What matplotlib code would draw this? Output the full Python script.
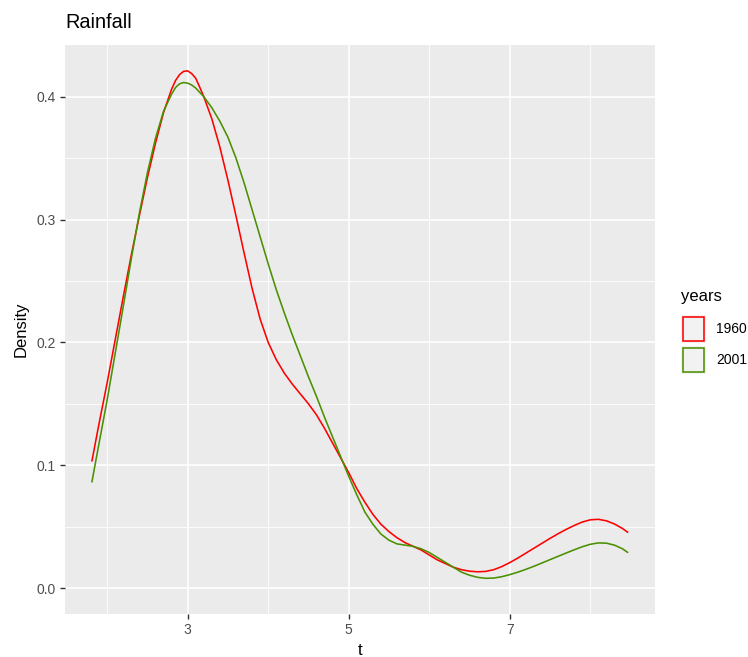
import matplotlib
matplotlib.use("Agg")
import matplotlib.pyplot as plt
from matplotlib.patches import Rectangle

# ---- data ----
t_1960 = [1.81, 1.9, 2.0, 2.1, 2.2, 2.3, 2.4, 2.5, 2.6, 2.7, 2.8, 2.85, 2.9, 2.95, 3.0,
          3.05, 3.1, 3.15, 3.2, 3.3, 3.4, 3.5, 3.6, 3.7, 3.8, 3.9, 4.0, 4.1, 4.2, 4.3,
          4.4, 4.5, 4.6, 4.7, 4.8, 4.9, 5.0, 5.1, 5.2, 5.3, 5.4, 5.5, 5.6, 5.7, 5.8,
          5.9, 6.0, 6.1, 6.2, 6.3, 6.4, 6.5, 6.6, 6.7, 6.8, 6.9, 7.0, 7.1, 7.2, 7.3,
          7.4, 7.5, 7.6, 7.7, 7.8, 7.9, 8.0, 8.1, 8.2, 8.3, 8.4, 8.47]
d_1960 = [0.103, 0.134, 0.167, 0.202, 0.237, 0.271, 0.303, 0.334, 0.362, 0.387, 0.406,
          0.4132, 0.418, 0.4206, 0.421, 0.4188, 0.415, 0.4077, 0.400, 0.382, 0.359,
          0.332, 0.303, 0.273, 0.244, 0.219, 0.200, 0.186, 0.175, 0.166, 0.158, 0.150,
          0.141, 0.130, 0.118, 0.106, 0.094, 0.081, 0.070, 0.060, 0.052, 0.046, 0.041,
          0.037, 0.034, 0.031, 0.027, 0.023, 0.020, 0.017, 0.0150, 0.0138, 0.0133,
          0.0136, 0.0150, 0.0175, 0.0208, 0.0245, 0.0285, 0.0325, 0.0365, 0.0405,
          0.0443, 0.0478, 0.0510, 0.0538, 0.0556, 0.0560, 0.0548, 0.0522, 0.0485, 0.0452]

t_2001 = [1.81, 1.9, 2.0, 2.1, 2.2, 2.3, 2.4, 2.5, 2.6, 2.7, 2.8, 2.85, 2.9, 2.95, 3.0,
          3.05, 3.1, 3.2, 3.3, 3.4, 3.5, 3.6, 3.7, 3.8, 3.9, 4.0, 4.1, 4.2, 4.3, 4.4,
          4.5, 4.6, 4.7, 4.8, 4.9, 5.0, 5.1, 5.2, 5.3, 5.4, 5.5, 5.6, 5.7, 5.8, 5.9,
          6.0, 6.1, 6.2, 6.3, 6.4, 6.5, 6.6, 6.7, 6.8, 6.9, 7.0, 7.1, 7.2, 7.3, 7.4,
          7.5, 7.6, 7.7, 7.8, 7.9, 8.0, 8.1, 8.2, 8.3, 8.4, 8.47]
d_2001 = [0.086, 0.118, 0.153, 0.191, 0.229, 0.268, 0.305, 0.338, 0.366, 0.388, 0.402,
          0.4075, 0.4105, 0.4115, 0.411, 0.4095, 0.407, 0.400, 0.391, 0.380, 0.367,
          0.350, 0.330, 0.308, 0.286, 0.264, 0.243, 0.224, 0.206, 0.189, 0.172, 0.156,
          0.139, 0.123, 0.107, 0.091, 0.076, 0.062, 0.052, 0.044, 0.039, 0.036, 0.035,
          0.034, 0.032, 0.029, 0.025, 0.021, 0.017, 0.013, 0.0105, 0.0088, 0.0080,
          0.0082, 0.0093, 0.0110, 0.0130, 0.0153, 0.0178, 0.0205, 0.0232, 0.0259,
          0.0286, 0.0312, 0.0337, 0.0357, 0.0368, 0.0366, 0.0350, 0.0320, 0.0288]

years = ["1960", "2001"]
colors = ["#FF0000", "#4A9000"]
x_ticks = [3, 5, 7]
x_minor = [2, 4, 6, 8]
y_ticks = [0.0, 0.1, 0.2, 0.3, 0.4]
y_minor = [0.05, 0.15, 0.25, 0.35]

plt.rcParams['font.family'] = ['Liberation Sans', 'DejaVu Sans']

W, H = 748, 657
fig = plt.figure(figsize=(W / 100, H / 100), dpi=100)
L, R, T, B = 65, 655, 45, 614
ax = fig.add_axes([L / W, 1 - B / H, (R - L) / W, (B - T) / H])
ax.set_facecolor("#EBEBEB")
for s in ax.spines.values():
    s.set_visible(False)

# grid
for v in x_minor:
    ax.axvline(v, color="white", lw=0.6, zorder=0)
for v in y_minor:
    ax.axhline(v, color="white", lw=0.6, zorder=0)
for v in x_ticks:
    ax.axvline(v, color="white", lw=1.2, zorder=0)
for v in y_ticks:
    ax.axhline(v, color="white", lw=1.2, zorder=0)

for tt, dd, c in [(t_1960, d_1960, colors[0]), (t_2001, d_2001, colors[1])]:
    ax.plot(tt, dd, color=c, lw=1.15, solid_capstyle="butt",
            solid_joinstyle="round", zorder=3)

xmin, xmax = min(t_1960 + t_2001), max(t_1960 + t_2001)
xr = xmax - xmin
ax.set_xlim(xmin - 0.05 * xr, xmax + 0.05 * xr)
ymax = max(d_1960 + d_2001)
ax.set_ylim(-0.05 * ymax, ymax * 1.05)

ax.set_xticks(x_ticks)
ax.set_xticklabels([str(v) for v in x_ticks])
ax.set_yticks(y_ticks)
ax.set_yticklabels([f"{v:.1f}" for v in y_ticks])
ax.tick_params(axis="both", length=3.5, width=1.0, color="#333333",
               labelcolor="#4D4D4D", labelsize=10, pad=3)

ax.set_xlabel("t", fontsize=12, color="black", labelpad=4)
ax.set_ylabel("Density", fontsize=12, color="black", labelpad=6)
fig.text(L / W, 1 - 22 / H, "Rainfall", fontsize=14.3, color="black",
         ha="left", va="center")

# legend (manual, ggplot style)
fig.text(681 / W, 1 - 297 / H, "years", fontsize=12, ha="left", va="center")
keys = [(315, 343), (346, 374)]
for (y0, y1), lab, c in zip(keys, years, colors):
    fig.patches.append(Rectangle((681 / W, 1 - y1 / H), 25 / W, (y1 - y0) / H,
                                 transform=fig.transFigure, facecolor="#F2F2F2",
                                 edgecolor="none"))
    fig.patches.append(Rectangle((683 / W, 1 - (y1 - 2) / H), 21 / W, (y1 - y0 - 4) / H,
                                 transform=fig.transFigure, facecolor="none",
                                 edgecolor=c, lw=1.15))
    fig.text(716 / W, 1 - ((y0 + y1) / 2) / H, lab, fontsize=10, ha="left",
             va="center", color="black")

fig.savefig("out.png", dpi=100, facecolor="white")
